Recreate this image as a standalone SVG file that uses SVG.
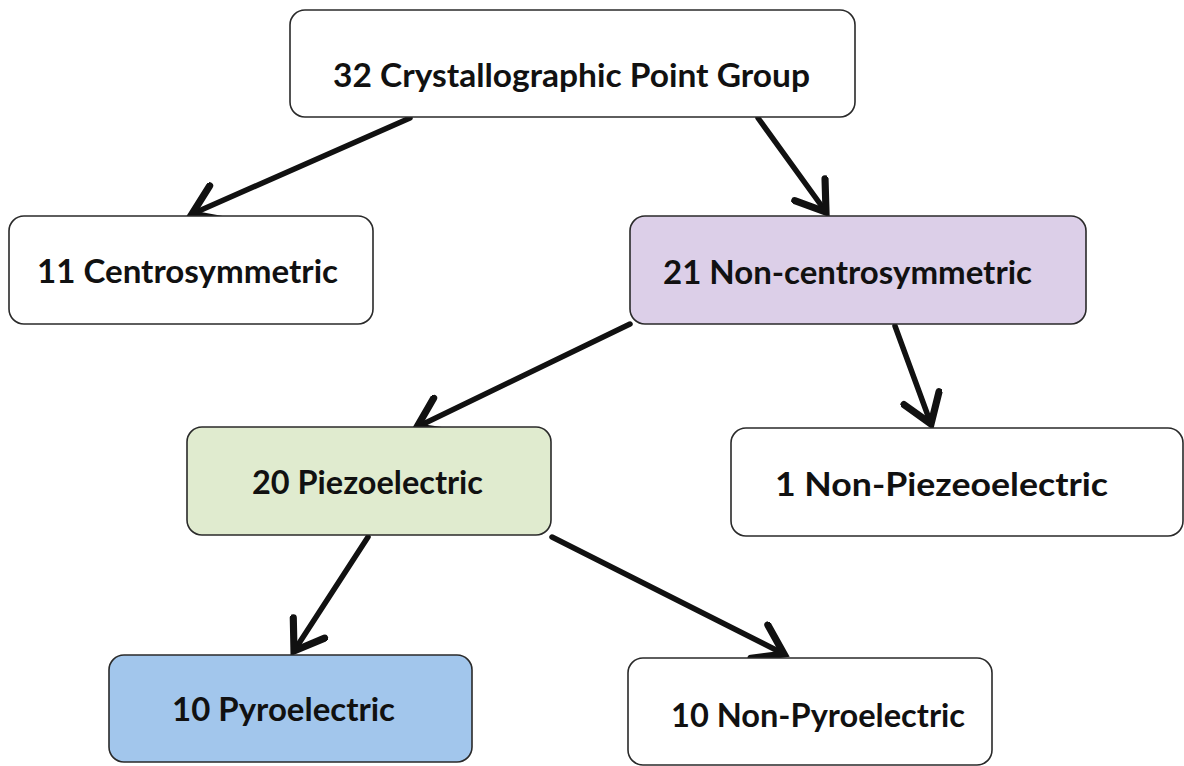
<svg xmlns="http://www.w3.org/2000/svg" width="1184" height="766" viewBox="0 0 1184 766">
<defs>
<style>
.box{stroke:#2a2a2a;stroke-width:1.6}
.lbl{font-family:Lato,"Open Sans","Liberation Sans",sans-serif;font-weight:bold;font-size:32px;fill:#111}
.conn{stroke:#111;stroke-width:5.5;fill:none;stroke-linecap:round}
</style>
<marker id="arr" markerWidth="8" markerHeight="8" refX="6" refY="4" orient="auto" markerUnits="strokeWidth" viewBox="0 0 8 8">
<polyline points="1,0.6 6,4 1,7.4" fill="none" stroke="#111" stroke-width="1.3" stroke-linecap="round" stroke-linejoin="miter"/>
</marker>
</defs>
<rect width="1184" height="766" fill="#ffffff"/>
<g id="connectors">
<line class="conn" x1="410" y1="118" x2="192" y2="214" marker-end="url(#arr)"/>
<line class="conn" x1="758" y1="118" x2="826" y2="212" marker-end="url(#arr)"/>
<line class="conn" x1="630" y1="324" x2="417" y2="427" marker-end="url(#arr)"/>
<line class="conn" x1="895" y1="326" x2="931" y2="424" marker-end="url(#arr)"/>
<line class="conn" x1="368" y1="537" x2="294" y2="651" marker-end="url(#arr)"/>
<line class="conn" x1="552" y1="537" x2="784" y2="654" marker-end="url(#arr)"/>
</g>
<g id="n32">
<rect class="box" x="290" y="10" width="565" height="107" rx="15" fill="#ffffff"/>
<text class="lbl" x="333" y="87" textLength="477" lengthAdjust="spacingAndGlyphs">32 Crystallographic Point Group</text>
</g>
<g id="n11">
<rect class="box" x="9" y="216" width="364" height="108" rx="15" fill="#ffffff"/>
<text class="lbl" x="37" y="283" textLength="301" lengthAdjust="spacingAndGlyphs">11 Centrosymmetric</text>
</g>
<g id="n21">
<rect class="box" x="630" y="216" width="456" height="108" rx="15" fill="#dccfe8"/>
<text class="lbl" x="663" y="284" textLength="369" lengthAdjust="spacingAndGlyphs">21 Non-centrosymmetric</text>
</g>
<g id="n20">
<rect class="box" x="187" y="427" width="364" height="108" rx="15" fill="#e0ebcf"/>
<text class="lbl" x="252" y="494" textLength="231" lengthAdjust="spacingAndGlyphs">20 Piezoelectric</text>
</g>
<g id="n1">
<rect class="box" x="731" y="428" width="452" height="108" rx="15" fill="#ffffff"/>
<text class="lbl" x="775" y="496" textLength="333" lengthAdjust="spacingAndGlyphs">1 Non-Piezeoelectric</text>
</g>
<g id="n10p">
<rect class="box" x="109" y="655" width="363" height="107" rx="15" fill="#a2c6ec"/>
<text class="lbl" x="172" y="721" textLength="223" lengthAdjust="spacingAndGlyphs">10 Pyroelectric</text>
</g>
<g id="n10np">
<rect class="box" x="628" y="658" width="364" height="107" rx="15" fill="#ffffff"/>
<text class="lbl" x="671" y="727" textLength="294" lengthAdjust="spacingAndGlyphs">10 Non-Pyroelectric</text>
</g>
</svg>
